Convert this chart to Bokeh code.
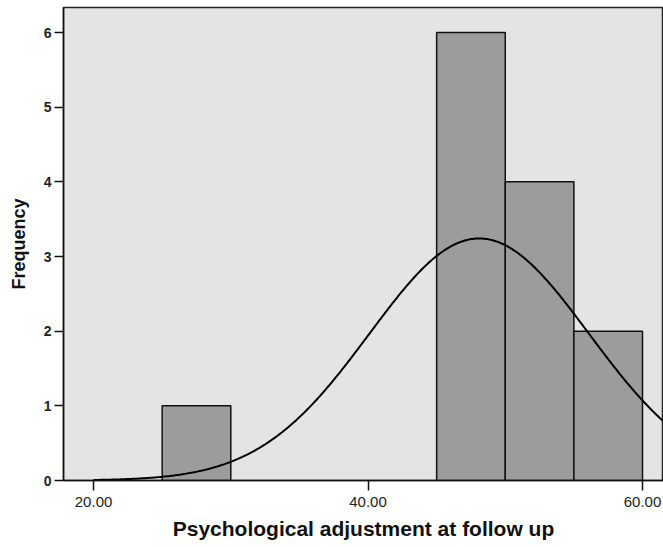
import numpy as np
from bokeh.plotting import figure
from bokeh.models import FixedTicker, NumeralTickFormatter, Range1d
from bokeh.embed import file_html
from bokeh.resources import INLINE

# Histogram data (bins of width 5)
bin_left = [25, 45, 50, 55]
bin_right = [30, 50, 55, 60]
freq = [1, 6, 4, 2]

x_ticks = [20, 40, 60]
y_ticks = [0, 1, 2, 3, 4, 5, 6]

# Fitted normal curve parameters
fit_mean = 48.1
fit_sd = 8.0
n_total = 13
bin_width = 5

p = figure(width=663, height=547, output_backend="svg", toolbar_location=None,
           x_range=Range1d(17.81, 61.53), y_range=Range1d(0, 6.335),
           min_border_left=63, min_border_right=0, min_border_top=7,
           min_border_bottom=67)
p.background_fill_color = "#e4e4e4"
p.border_fill_color = "white"
p.outline_line_color = "#222222"
p.outline_line_width = 1.5
p.grid.visible = False

p.quad(left=bin_left, right=bin_right, bottom=0, top=freq,
       fill_color="#9c9c9c", line_color="#111111", line_width=1.5)

xs = np.linspace(20, 61.6, 400)
ys = n_total * bin_width / (fit_sd * np.sqrt(2 * np.pi)) * np.exp(-0.5 * ((xs - fit_mean) / fit_sd) ** 2)
p.line(xs, ys, line_color="black", line_width=2)

for ax in (p.xaxis[0], p.yaxis[0]):
    ax.minor_tick_line_color = None
    ax.axis_line_color = "#111111"
    ax.axis_line_width = 1.5
    ax.major_tick_line_color = "#111111"
    ax.major_tick_line_width = 1.5
    ax.major_tick_in = 0
    ax.major_label_text_font = "Liberation Sans"
    ax.major_label_text_color = "#222222"
    ax.axis_label_text_font = "Liberation Sans"
    ax.axis_label_text_font_style = "bold"
    ax.axis_label_text_color = "#111111"

p.xaxis.ticker = FixedTicker(ticks=x_ticks)
p.xaxis.formatter = NumeralTickFormatter(format="0.00")
p.xaxis.major_tick_out = 10
p.xaxis.major_label_standoff = 6
p.xaxis.major_label_text_font_size = "15px"
p.xaxis.axis_label = "Psychological adjustment at follow up"
p.xaxis.axis_label_text_font_size = "21px"
p.xaxis.axis_label_standoff = 7

p.yaxis.ticker = FixedTicker(ticks=y_ticks)
p.yaxis.major_tick_out = 9
p.yaxis.major_label_standoff = 3
p.yaxis.major_label_text_font_size = "14px"
p.yaxis.major_label_text_font_style = "bold"
p.yaxis.axis_label = "Frequency"
p.yaxis.axis_label_text_font_size = "18px"
p.yaxis.axis_label_standoff = 12

open("out.html", "w").write(file_html(p, INLINE))
